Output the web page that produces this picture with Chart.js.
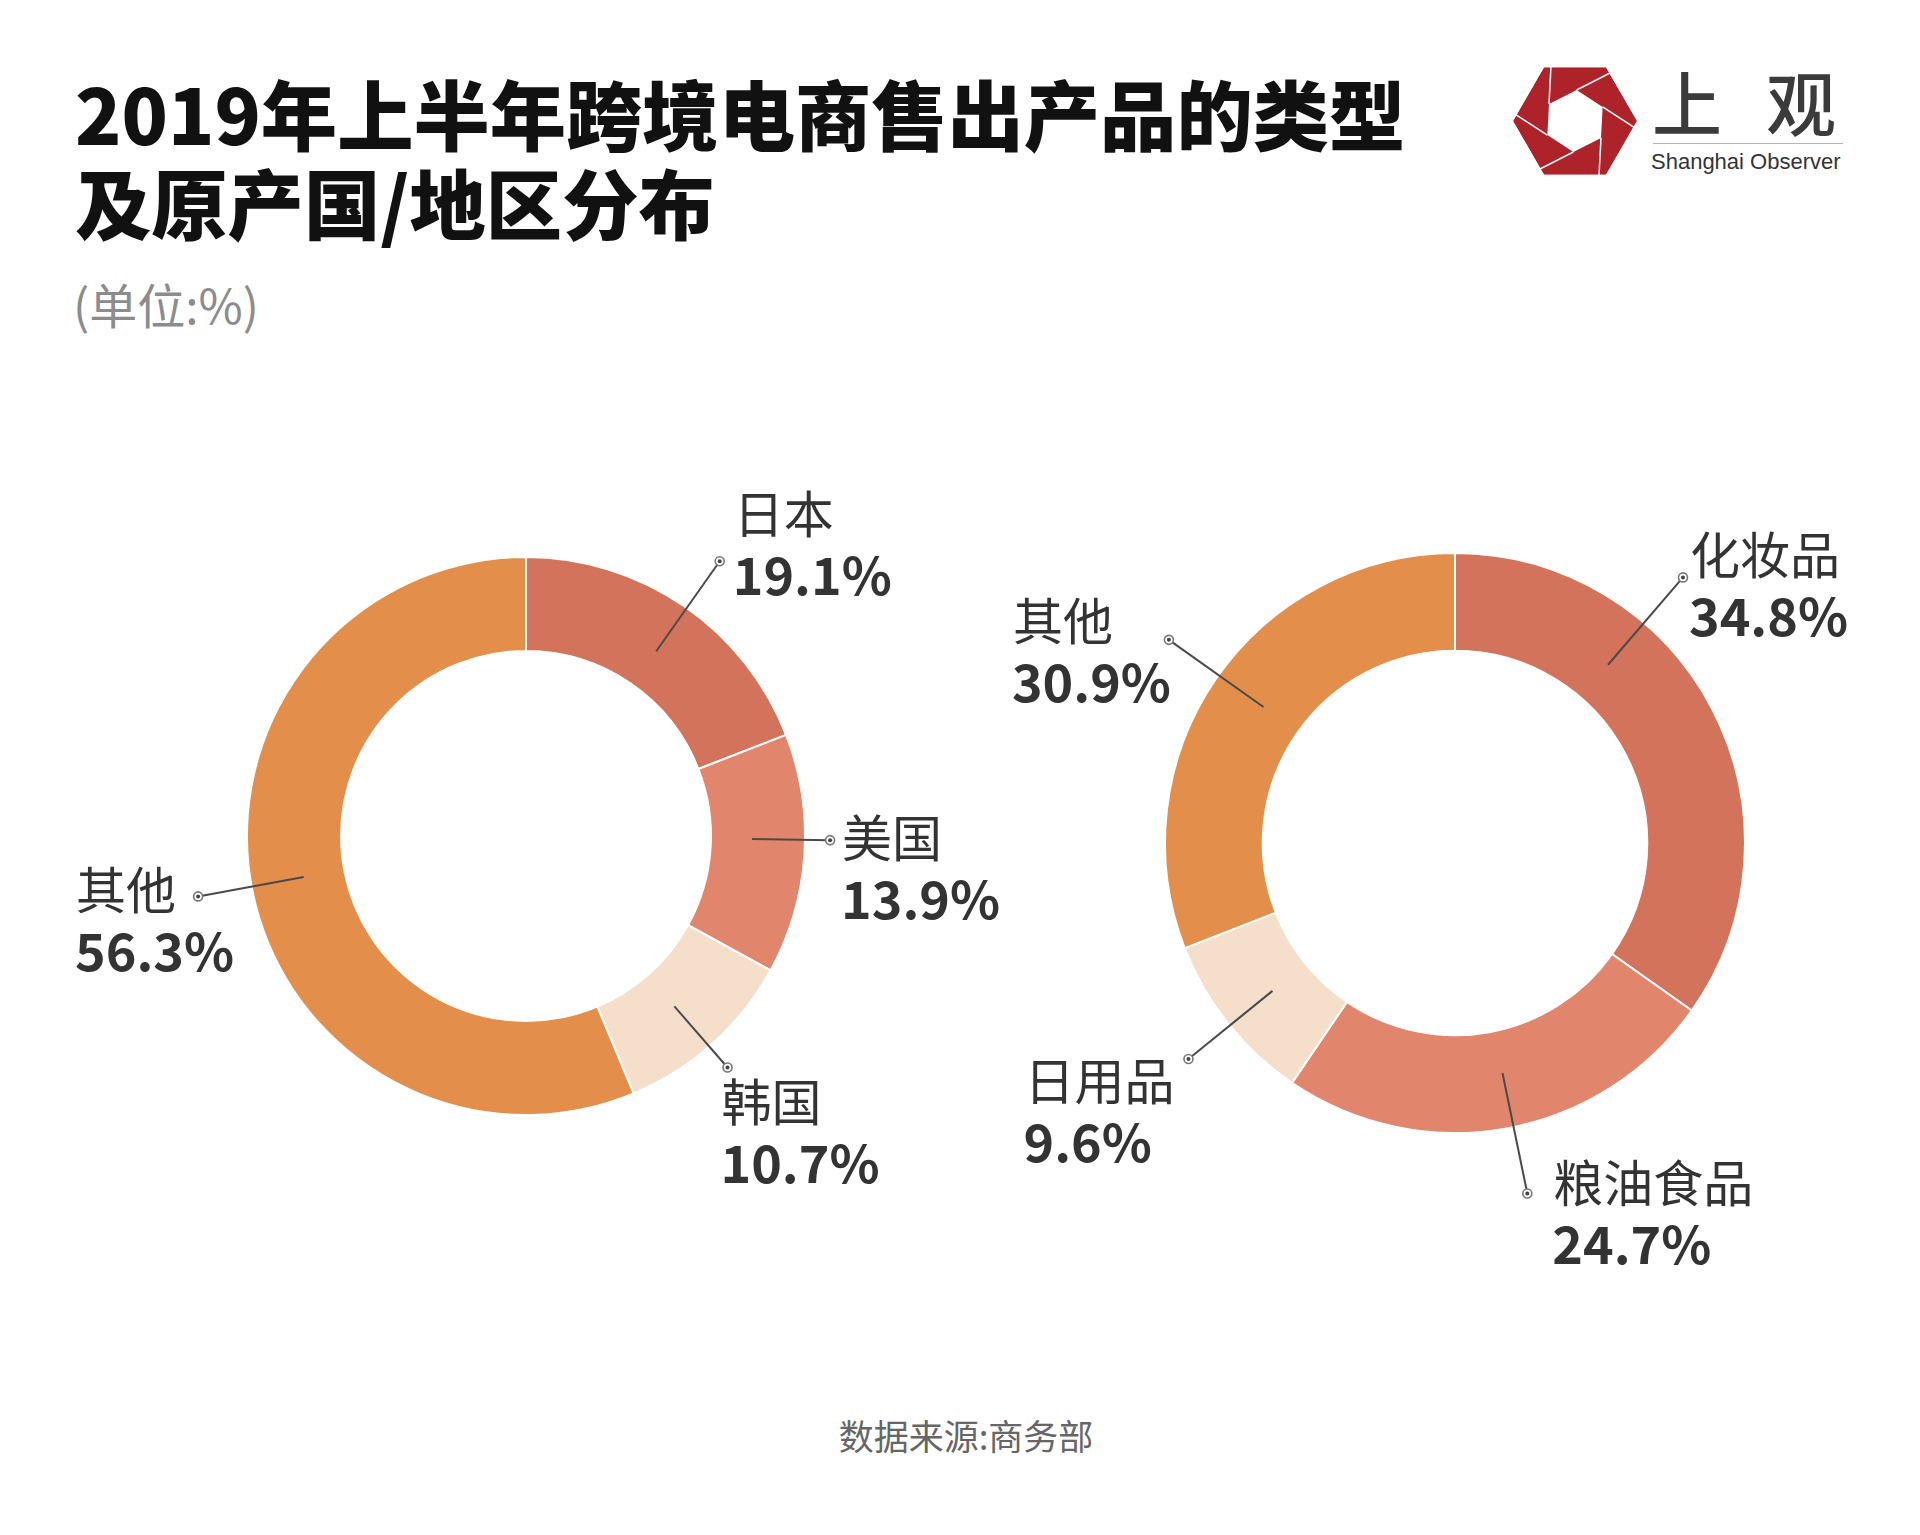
<!DOCTYPE html>
<html>
<head>
<meta charset="utf-8">
<script src="https://cdn.jsdelivr.net/npm/chart.js@4.4.1/dist/chart.umd.min.js"></script>
<style>
  body { margin: 0; background: #fff; }
  #page { position: relative; width: 1920px; height: 1535px; overflow: hidden; font-family: "Noto Sans CJK SC", "Noto Sans", sans-serif; }
  .title { position: absolute; left: 75px; top: 67px; font-size: 76.3px; line-height: 89px; font-weight: 900; color: #111; }
  .unit { position: absolute; left: 73px; top: 276px; font-size: 48px; line-height: 54px; color: #8c8c8c; }
  .source { position: absolute; left: 0; width: 1932px; top: 1415px; text-align: center; font-size: 35px; line-height: 40px; color: #666; }
  .box { position: absolute; }
  #logoText { position: absolute; left: 1652px; top: 62px; font-size: 70px; line-height: 78px; letter-spacing: 44px; color: #3b3b3b; font-weight: 500; }
  #logoRule { position: absolute; left: 1653px; top: 143px; width: 190px; height: 1px; background: #b5b5b5; }
  #logoEn { position: absolute; left: 1651px; top: 149px; font-family: "Liberation Sans", Arial, sans-serif; font-size: 22px; line-height: 26px; color: #333; }
</style>
</head>
<body>
<div id="page">
  <div class="title">2019年上半年跨境电商售出产品的类型<br>及原产国/地区分布</div>
  <div class="unit">(单位:%)</div>
  <canvas id="logo" width="140" height="120" style="position:absolute;left:1505px;top:61px;"></canvas>
  <div id="logoText">上观</div>
  <div id="logoRule"></div>
  <div id="logoEn">Shanghai Observer</div>
  <div class="box" style="left:0;top:440px;width:1000px;height:840px;"><canvas id="originChart"></canvas></div>
  <div class="box" style="left:1000px;top:440px;width:920px;height:840px;"><canvas id="productChart"></canvas></div>
  <div class="source">数据来源:商务部</div>
</div>
<script>
// 原产国/地区
const originLabels = ["日本", "美国", "韩国", "其他"];
const originValues = [19.1, 13.9, 10.7, 56.3];

// 产品类型
const productLabels = ["化妆品", "粮油食品", "日用品", "其他"];
const productValues = [34.8, 24.7, 9.6, 30.9];

const sliceColors = ["#D4735C", "#E1866D", "#F5DFCB", "#E38F4B"];

// label placement: angle shift (deg), dot distance (x outer radius), text offset from dot
const originLayout = [
  { shift: 0.8, dist: 1.205, dx: 16, dy: -47 },
  { shift: -3.0, dist: 1.09, dx: 14, dy: -2 },
  { shift: 0.9, dist: 1.10, dx: -4, dy: 35 },
  { shift: 0.9, dist: 1.195, dx: -120, dy: -6 },
];
const productLayout = [
  { shift: -22, dist: 1.207, dx: 9, dy: -22 },
  { shift: -1.4, dist: 1.234, dx: 28, dy: -10 },
  { shift: -0.5, dist: 1.183, dx: -162, dy: 22 },
  { shift: 1, dist: 1.21, dx: -154, dy: -19 },
];

const calloutPlugin = {
  id: "callouts",
  afterDatasetsDraw(chart, args, opts) {
    const ctx = chart.ctx;
    const meta = chart.getDatasetMeta(0);
    const values = chart.data.datasets[0].data;
    meta.data.forEach(function (arc, i) {
      const p = arc.getProps(["x", "y", "startAngle", "endAngle", "outerRadius", "innerRadius"], true);
      const lay = opts.layout[i];
      const a = (p.startAngle + p.endAngle) / 2 + (lay.shift * Math.PI) / 180;
      const r0 = p.outerRadius * 0.81;
      const r1 = p.outerRadius * lay.dist;
      const sx = p.x + Math.cos(a) * r0, sy = p.y + Math.sin(a) * r0;
      const ex = p.x + Math.cos(a) * r1, ey = p.y + Math.sin(a) * r1;

      ctx.save();
      ctx.strokeStyle = "#4a4a4a";
      ctx.lineWidth = 2;
      ctx.beginPath();
      ctx.moveTo(sx, sy);
      ctx.lineTo(ex, ey);
      ctx.stroke();

      ctx.beginPath();
      ctx.arc(ex, ey, 4.5, 0, Math.PI * 2);
      ctx.fillStyle = "#fff";
      ctx.fill();
      ctx.strokeStyle = "#777";
      ctx.lineWidth = 1.6;
      ctx.stroke();
      ctx.beginPath();
      ctx.arc(ex, ey, 2, 0, Math.PI * 2);
      ctx.fillStyle = "#444";
      ctx.fill();

      ctx.textAlign = "left";
      ctx.textBaseline = "middle";
      ctx.fillStyle = "#333";
      ctx.font = '400 50px "Noto Sans CJK SC"';
      ctx.fillText(chart.data.labels[i], ex + lay.dx - 2, ey + lay.dy);
      ctx.font = '700 52px "Noto Sans CJK SC"';
      ctx.fillText(values[i].toFixed(1) + "%", ex + lay.dx - 3, ey + lay.dy + 61);
      ctx.restore();
    });
  },
};

function drawDonut(id, labels, values, layout, padding) {
  const ctx = document.getElementById(id).getContext("2d");
  new Chart(ctx, {
    type: "doughnut",
    data: {
      labels: labels,
      datasets: [
        {
          data: values,
          backgroundColor: sliceColors,
          borderColor: "#ffffff",
          borderWidth: 2,
        },
      ],
    },
    options: {
      responsive: true,
      maintainAspectRatio: false,
      animation: false,
      cutout: "66.3%",
      layout: { padding: padding },
      plugins: {
        legend: { display: false },
        tooltip: { enabled: false },
        callouts: { layout: layout },
      },
    },
    plugins: [calloutPlugin],
  });
}

drawDonut("originChart", originLabels, originValues, originLayout, { left: 246, right: 194, top: 116, bottom: 164 });
drawDonut("productChart", productLabels, productValues, productLayout, { left: 164, right: 174, top: 112, bottom: 146 });

// logo: aperture hexagon
(function () {
  const c = document.getElementById("logo").getContext("2d");
  const cx = 70, cy = 60, R = 62, r = 31;
  const outer = [], inner = [];
  for (let k = 0; k < 6; k++) {
    const ao = (k * 60 * Math.PI) / 180;
    outer.push([cx + R * Math.cos(ao), cy + R * Math.sin(ao)]);
    const ai = ((k * 60 - 27) * Math.PI) / 180;
    inner.push([cx + r * Math.cos(ai), cy + r * Math.sin(ai)]);
  }
  c.fillStyle = "#AE2329";
  c.beginPath();
  outer.forEach((pt, k) => (k ? c.lineTo(pt[0], pt[1]) : c.moveTo(pt[0], pt[1])));
  c.closePath();
  c.fill();
  c.fillStyle = "#fff";
  c.beginPath();
  inner.forEach((pt, k) => (k ? c.lineTo(pt[0], pt[1]) : c.moveTo(pt[0], pt[1])));
  c.closePath();
  c.fill();
  c.strokeStyle = "#fff";
  c.lineWidth = 1.5;
  for (let k = 0; k < 6; k++) {
    const a = inner[k], b = inner[(k + 1) % 6];
    const dx = b[0] - a[0], dy = b[1] - a[1];
    c.beginPath();
    c.moveTo(b[0], b[1]);
    c.lineTo(b[0] + dx * 3, b[1] + dy * 3);
    c.stroke();
  }
  // clip overshoot outside hexagon
  c.globalCompositeOperation = "destination-in";
  c.beginPath();
  outer.forEach((pt, k) => (k ? c.lineTo(pt[0], pt[1]) : c.moveTo(pt[0], pt[1])));
  c.closePath();
  c.fill();
})();
</script>
</body>
</html>
